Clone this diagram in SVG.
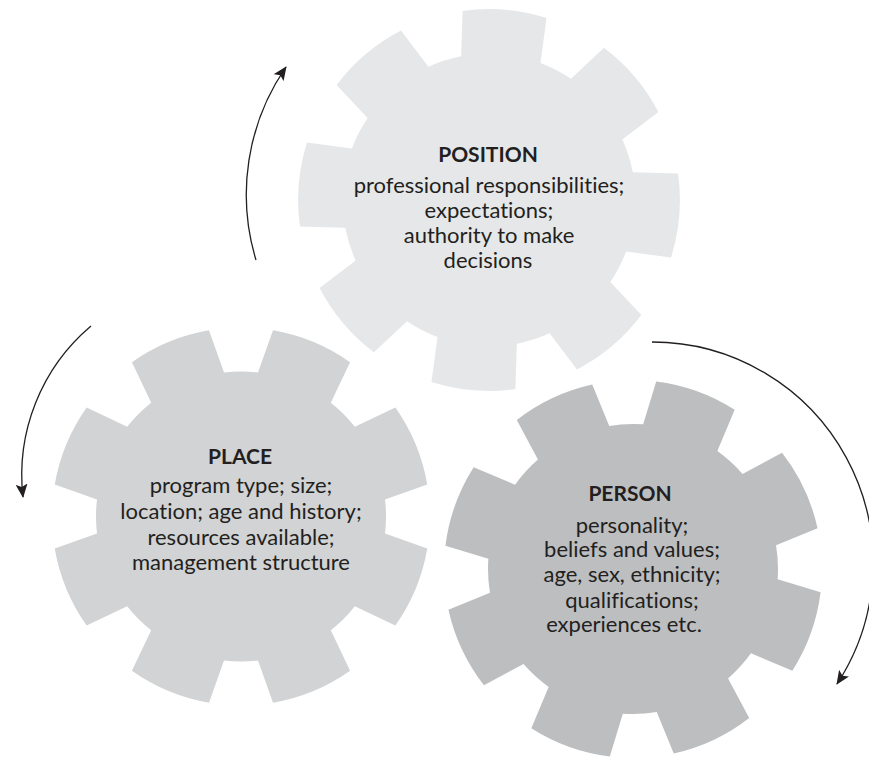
<svg xmlns="http://www.w3.org/2000/svg" xmlns:xlink="http://www.w3.org/1999/xlink" width="869" height="760" viewBox="0 0 869 760">
<style>
  .t { font-family: Lato, "Noto Sans", sans-serif; font-size: 22px; fill: #231f20; text-anchor: middle; font-variant-ligatures: none; }
  .h { font-weight: bold; font-size: 21px; }
  .arrow { fill: none; stroke: #231f20; stroke-width: 1.3; marker-end: url(#ah); }
</style>
<defs>
  <path id="gear" d="M186.27,-32.01 L144,-16.99 A145,145 0 0 1 144,16.99 L186.27,32.01 A189,189 0 0 1 154.35,109.08 L113.84,89.81 A145,145 0 0 1 89.81,113.84 L109.08,154.35 A189,189 0 0 1 32.01,186.27 L16.99,144 A145,145 0 0 1 -16.99,144 L-32.01,186.27 A189,189 0 0 1 -109.08,154.35 L-89.81,113.84 A145,145 0 0 1 -113.84,89.81 L-154.35,109.08 A189,189 0 0 1 -186.27,32.01 L-144,16.99 A145,145 0 0 1 -144,-16.99 L-186.27,-32.01 A189,189 0 0 1 -154.35,-109.08 L-113.84,-89.81 A145,145 0 0 1 -89.81,-113.84 L-109.08,-154.35 A189,189 0 0 1 -32.01,-186.27 L-16.99,-144 A145,145 0 0 1 16.99,-144 L32.01,-186.27 A189,189 0 0 1 109.08,-154.35 L89.81,-113.84 A145,145 0 0 1 113.84,-89.81 L154.35,-109.08 A189,189 0 0 1 186.27,-32.01 Z"/>
  <marker id="ah" markerUnits="userSpaceOnUse" markerWidth="14" markerHeight="12" viewBox="0 0 14 12" refX="13" refY="6" orient="auto">
    <path d="M0,0 L14,6 L0,12 L3,6 z" fill="#231f20"/>
  </marker>
</defs>

<g id="position">
  <use href="#gear" xlink:href="#gear" transform="translate(489,200) rotate(27.3) scale(1.01)" fill="#e6e7e8"/>
  <text class="t h" x="488" y="162">POSITION</text>
  <text class="t" x="489" y="193">professional responsibilities;</text>
  <text class="t" x="489" y="217.5">expectations;</text>
  <text class="t" x="489" y="242.5">authority to make</text>
  <text class="t" x="488" y="268">decisions</text>
</g>

<g id="place">
  <use href="#gear" xlink:href="#gear" transform="translate(241,516.5)" fill="#d1d3d4"/>
  <text class="t h" x="240" y="464">PLACE</text>
  <text class="t" x="241" y="493">program type; size;</text>
  <text class="t" x="241" y="519">location; age and history;</text>
  <text class="t" x="241" y="544.5">resources available;</text>
  <text class="t" x="241" y="569.5">management structure</text>
</g>

<g id="person">
  <use href="#gear" xlink:href="#gear" transform="translate(633,569) rotate(-2.7)" fill="#bcbec0"/>
  <text class="t h" x="630" y="500.5">PERSON</text>
  <text class="t" x="632" y="532.5">personality;</text>
  <text class="t" x="632" y="557">beliefs and values;</text>
  <text class="t" x="632" y="582">age, sex, ethnicity;</text>
  <text class="t" x="632" y="607.5">qualifications;</text>
  <text class="t" x="624" y="632">experiences etc.</text>
</g>

<g id="connectors">
  <path class="arrow" d="M256,260 A225,225 0 0 1 286,67"/>
  <path class="arrow" d="M91,326 A195,195 0 0 0 23,497"/>
  <path class="arrow" d="M652,342 A221,221 0 0 1 837,684"/>
</g>
</svg>
